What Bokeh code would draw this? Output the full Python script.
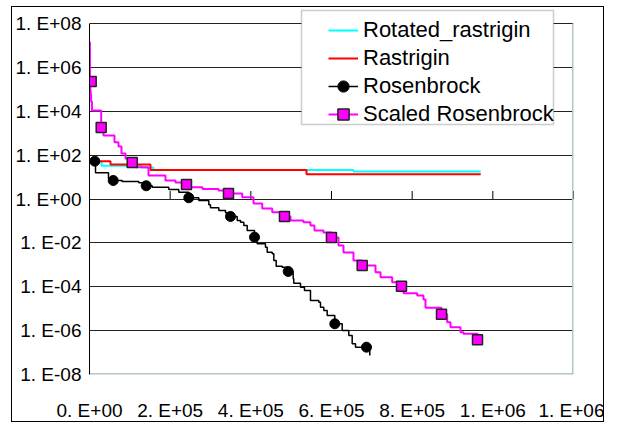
import numpy as np
from bokeh.plotting import figure
from bokeh.models import (FixedTicker, Legend, LegendItem, BoxAnnotation, Range1d,
                          InlineStyleSheet)
from bokeh.embed import file_html
from bokeh.resources import INLINE

# ---- data ----
x_ticks = [0, 200000, 400000, 600000, 800000, 1000000, 1200000]
x_tick_labels = ["0. E+00", "2. E+05", "4. E+05", "6. E+05", "8. E+05", "1. E+06", "1. E+06"]
y_ticks = [1e-8, 1e-6, 1e-4, 1e-2, 1e0, 1e2, 1e4, 1e6, 1e8]
y_tick_labels = ["1. E-08", "1. E-06", "1. E-04", "1. E-02", "1. E+00",
                 "1. E+02", "1. E+04", "1. E+06", "1. E+08"]

series_names = ["Rotated_rastrigin", "Rastrigin", "Rosenbrock", "Scaled Rosenbrock"]

rr_x = [0, 29800, 128900, 158700, 654500, 970000]
rr_y = [51.3, 32.7, 27.3, 21.0, 17.9, 17.9]

ra_x = [0, 52100, 151200, 538000, 970000]
ra_y = [53, 37.4, 21.0, 13.5, 13.5]

rb_x = [13100, 14900, 47100, 58800, 81100, 122200,
        140600, 155400, 196600, 221400, 246200, 271000,
        295800, 300000, 320600, 337200, 349600, 366200,
        374400, 382600, 391000, 409100, 415800, 436300,
        440600, 453000, 457000, 462900, 477800, 492600,
        505000, 506500, 523100, 533000, 547900, 568500,
        572700, 580900, 589300, 608200, 626500, 642900,
        651300, 659500, 694900]
rb_y = [53, 15.7, 8.36, 6.98, 6.28, 5.48,
        4.01, 3.46, 2.72, 2.05, 1.14, 0.855,
        0.545, 0.398, 0.3, 0.236, 0.16, 0.105,
        0.0877, 0.0621, 0.0367, 0.0182, 9.1e-3, 6.37e-3,
        3.77e-3, 3.18e-3, 1.58e-3, 8.67e-4, 7.8e-4, 4.97e-4,
        2.31e-4, 1.46e-4, 9.6e-5, 6.76e-5, 2.37e-5, 1.98e-5,
        1.17e-5, 8.3e-6, 4.91e-6, 2.05e-6, 1.02e-6, 6.0e-7,
        2.52e-7, 1.76e-7, 7.4e-8]
rb_mx = [13100, 58800, 140600, 246200, 349600, 409100, 492600, 608200, 686700]
rb_my = [53, 6.98, 4.01, 1.14, 0.16, 0.0182, 4.97e-4, 2.05e-6, 1.76e-7]

sr_x = [0, 1000, 2000, 3000, 4000, 6000,
        29000, 34700, 62000, 71900, 79300, 89300,
        105900, 114000, 146300, 188400, 213200, 240500,
        250400, 280100, 319800, 344600, 378600, 406600,
        428200, 453000, 483400, 498300, 530500, 547900,
        557800, 580100, 599900, 617400, 629700, 654500,
        676100, 709100, 721500, 750500, 773500, 778500,
        812400, 828000, 833000, 872700, 886800, 895000,
        919800, 927200, 962000]
sr_y = [1.41e7, 2.27e5, 8.83e4, 5.81e4, 2.78e4, 1.08e4,
        1.82e3, 785, 389, 248, 119, 70.3,
        46.1, 28.2, 11.8, 6.98, 5.66, 4.59,
        3.46, 2.86, 2.44, 1.78, 1.21, 0.625,
        0.37, 0.251, 0.16, 0.105, 0.0877, 0.0621,
        0.0367, 0.0298, 0.0176, 7.6e-3, 3.65e-3, 1.58e-3,
        9.3e-4, 4.61e-4, 2.73e-4, 1.61e-4, 1.06e-4, 5.09e-5,
        4.0e-5, 2.63e-5, 1.1e-5, 5.6e-6, 2.43e-6, 1.44e-6,
        8.5e-7, 7.2e-7, 3.83e-7]
sr_mx = [4200, 29000, 105900, 240500, 344600, 483400, 599900, 676100, 773500, 872700, 962000]
sr_my = [2.27e5, 1.82e3, 46.1, 4.59, 1.78, 0.16, 0.0176, 9.3e-4, 1.06e-4, 5.6e-6, 3.83e-7]

# ---- layout constants ----
FRAME_TOP, AXIS_TOP, FRAME_BOTTOM = 7, 23, 374
px_per_dec = (FRAME_BOTTOM - AXIS_TOP) / 16.0
y_lo, y_hi = y_ticks[0], y_ticks[-1]
y_end = 10 ** (np.log10(y_hi) + (AXIS_TOP - FRAME_TOP) / px_per_dec)
x_lo, x_hi = x_ticks[0], x_ticks[-1]

AX_FONT = "Liberation Sans"
p = figure(width=604, height=423, x_range=Range1d(x_lo, x_hi), y_range=Range1d(y_lo, y_end),
           y_axis_type="log", output_backend="svg", toolbar_location=None,
           min_border=0, min_border_left=89, min_border_right=31,
           min_border_top=FRAME_TOP, min_border_bottom=423 - FRAME_BOTTOM)
p.background_fill_color = "white"
p.border_fill_color = "white"
p.outline_line_color = None

p.stylesheets = [InlineStyleSheet(css=(
    ":host { position: relative; }"
    ":host::after { content: ''; position: absolute; left: 11px; top: 6px; "
    "width: 593px; height: 416px; border: 1.5px solid black; box-sizing: border-box; "
    "pointer-events: none; }"))]

p.xgrid.visible = False
p.ygrid.ticker = FixedTicker(ticks=y_ticks)
p.ygrid.grid_line_color = "#222222"
p.ygrid.grid_line_width = 1

# plot-area right and bottom edges
p.segment(x0=[x_hi, x_lo], y0=[y_lo, y_lo], x1=[x_hi, x_hi], y1=[y_hi, y_lo],
          line_color="#b4c6cc", line_width=3)

p.yaxis.ticker = FixedTicker(ticks=y_ticks)
p.yaxis.bounds = (y_lo, y_hi)
p.yaxis.major_label_overrides = dict(zip(y_ticks, y_tick_labels))
p.yaxis.axis_line_color = "black"
p.yaxis.axis_line_width = 1
p.yaxis.major_tick_in = 0
p.yaxis.major_tick_out = 0
p.yaxis.minor_tick_line_color = None
p.yaxis.minor_tick_out = 0
p.yaxis.major_label_standoff = 8
p.yaxis.major_label_text_baseline = "hanging"

p.xaxis.ticker = FixedTicker(ticks=x_ticks)
p.xaxis.major_label_overrides = dict(zip(x_ticks, x_tick_labels))
p.xaxis.axis_line_color = None
p.xaxis.major_tick_line_color = None
p.xaxis.minor_tick_line_color = None
p.xaxis.major_tick_in = 0
p.xaxis.major_tick_out = 0
p.xaxis.minor_tick_out = 0
p.xaxis.major_label_standoff = 25

for ax in (p.xaxis, p.yaxis):
    ax.major_label_text_font = AX_FONT
    ax.major_label_text_font_size = "19px"
    ax.major_label_text_color = "black"

# x-axis crossing line at 1E+00 tick marks
p.ray(x=x_ticks[1:], y=[1.0] * (len(x_ticks) - 1), length=8, angle=np.pi / 2,
      length_units="screen", line_color="black", line_width=1)

r_rr = p.step(rr_x, rr_y, mode="after", line_color="#00ffff", line_width=2)
r_ra = p.step(ra_x, ra_y, mode="after", line_color="#ff0000", line_width=2)
r_rb = p.step(rb_x, rb_y, mode="after", line_color="black", line_width=1.5)
r_rbm = p.scatter(rb_mx, rb_my, marker="circle", size=10, fill_color="black", line_color="black")
r_sr = p.step(sr_x, sr_y, mode="after", line_color="#ff00ff", line_width=2)
r_srm = p.scatter(sr_mx, sr_my, marker="square", size=10, fill_color="#ff00ff",
                  line_color="#222222", line_width=1.5)

# legend box
lbox = BoxAnnotation(left=301, right=553, top=10, bottom=124,
                     left_units="canvas", right_units="canvas",
                     top_units="canvas", bottom_units="canvas",
                     fill_color="white", fill_alpha=1, line_color="#555555", line_width=1.5)
p.add_layout(lbox)

legend = Legend(items=[
    LegendItem(label=series_names[0], renderers=[r_rr]),
    LegendItem(label=series_names[1], renderers=[r_ra]),
    LegendItem(label=series_names[2], renderers=[r_rb, r_rbm]),
    LegendItem(label=series_names[3], renderers=[r_sr, r_srm]),
], location=(238, 245), padding=1, spacing=0, margin=0,
    label_height=28, glyph_height=28, glyph_width=30, label_standoff=5,
    label_text_font="Liberation Sans", label_text_font_size="22px",
    label_text_color="black",
    background_fill_alpha=0, border_line_alpha=0)
p.add_layout(legend)

open("out.html", "w").write(file_html(p, INLINE))
